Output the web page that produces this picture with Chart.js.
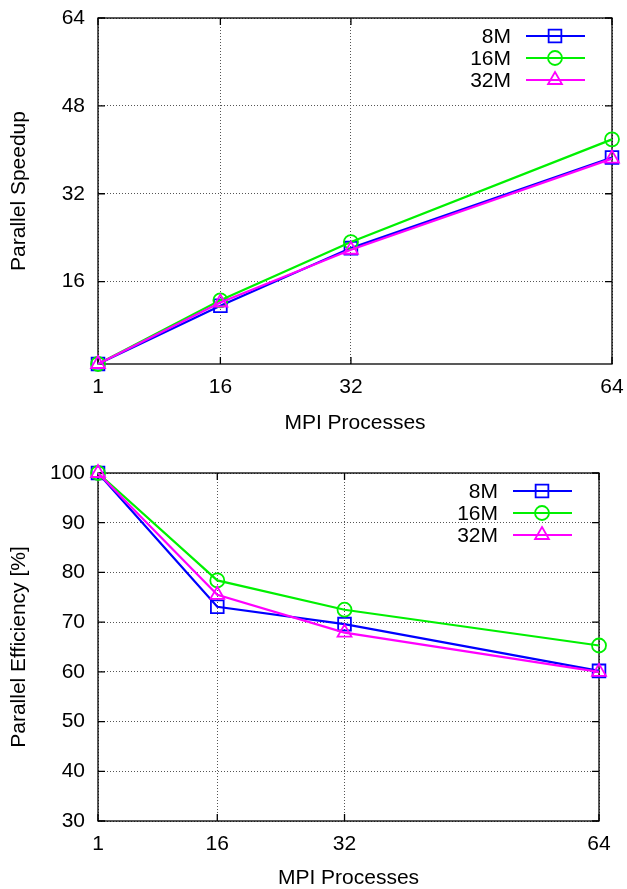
<!DOCTYPE html>
<html>
<head>
<meta charset="utf-8">
<script src="https://cdn.jsdelivr.net/npm/chart.js@4.4.1/dist/chart.umd.min.js"></script>
<style>
  body { margin: 0; background: #fff; }
  #wrap { position: relative; width: 627px; height: 889px; }
  #topBox { position: absolute; left: 0; top: 0; }
  #botBox { position: absolute; left: 0; top: 440px; }
</style>
</head>
<body>
<div id="wrap">
  <div id="topBox"><canvas id="speedupChart" width="627" height="440"></canvas></div>
  <div id="botBox"><canvas id="efficiencyChart" width="627" height="449"></canvas></div>
</div>
<script>
try {

    // data
    const processes = [1, 16, 32, 64];
    const seriesNames = ['8M', '16M', '32M'];
    const speedup8M = [1, 11.6, 22.1, 38.6];
    const speedup16M = [1, 12.6, 23.2, 41.9];
    const speedup32M = [1, 12.2, 21.8, 38.4];
    const eff8M = [100, 73.1, 69.6, 60.2];
    const eff16M = [100, 78.4, 72.5, 65.3];
    const eff32M = [100, 75.5, 67.9, 60.0];
    const speedupTicks = [16, 32, 48, 64];
    const efficiencyTicks = [30, 40, 50, 60, 70, 80, 90, 100];

    const FONT = "'Liberation Sans', Arial, Helvetica, sans-serif";
    const FSIZE = 21;
    const colors = ['#0000ff', '#00f000', '#ff00ff'];
    const markers = ['rect', 'circle', 'triangle'];
    const markerSize = [9, 7, 8];

    function makeDatasets(lists) {
      return lists.map((vals, i) => ({
        label: seriesNames[i],
        data: processes.map((p, j) => ({ x: p, y: vals[j] })),
        borderColor: colors[i],
        borderWidth: 2.2,
        pointStyle: markers[i],
        pointRadius: markerSize[i],
        pointBorderWidth: 1.8,
        pointBorderColor: colors[i],
        pointBackgroundColor: 'rgba(0,0,0,0)',
        tension: 0,
        clip: false,
        order: 3 - i
      }));
    }

    // small marker drawing for the legend samples
    function drawMarker(ctx, style, x, y, r) {
      ctx.beginPath();
      if (style === 'rect') {
        const s = r * Math.SQRT1_2;
        ctx.rect(x - s, y - s, 2 * s, 2 * s);
      } else if (style === 'circle') {
        ctx.arc(x, y, r, 0, Math.PI * 2);
      } else {
        const a = Math.PI / 6;
        ctx.moveTo(x, y - r);
        ctx.lineTo(x + Math.cos(a) * r, y + Math.sin(a) * r);
        ctx.lineTo(x - Math.cos(a) * r, y + Math.sin(a) * r);
        ctx.closePath();
      }
      ctx.stroke();
    }

    // border box with inward tick marks, like gnuplot, plus the legend
    const framePlugin = {
      id: 'frame',
      beforeDatasetsDraw(chart) {
        const { ctx, chartArea: a, scales } = chart;
        ctx.save();
        ctx.strokeStyle = '#000';
        ctx.lineWidth = 1.3;
        ctx.strokeRect(a.left, a.top, a.right - a.left, a.bottom - a.top);
        ctx.beginPath();
        scales.x.ticks.forEach(t => {
          const px = scales.x.getPixelForValue(t.value);
          ctx.moveTo(px, a.bottom); ctx.lineTo(px, a.bottom - 7);
          ctx.moveTo(px, a.top); ctx.lineTo(px, a.top + 7);
        });
        scales.y.ticks.forEach(t => {
          const py = scales.y.getPixelForValue(t.value);
          ctx.moveTo(a.left, py); ctx.lineTo(a.left + 7, py);
          ctx.moveTo(a.right, py); ctx.lineTo(a.right - 7, py);
        });
        ctx.stroke();
        ctx.restore();
      },
      afterDraw(chart) {
        const { ctx, chartArea: a } = chart;
        ctx.save();
        ctx.font = FSIZE + 'px ' + FONT;
        ctx.textAlign = 'right';
        ctx.textBaseline = 'middle';
        chart.data.datasets.forEach((ds, i) => {
          const y = a.top + 18 + 22 * i;
          ctx.fillStyle = '#000';
          ctx.fillText(ds.label, a.right - 101, y + 1);
          ctx.strokeStyle = ds.borderColor;
          ctx.lineWidth = ds.borderWidth;
          ctx.beginPath();
          ctx.moveTo(a.right - 86, y);
          ctx.lineTo(a.right - 27, y);
          ctx.stroke();
          ctx.lineWidth = ds.pointBorderWidth;
          drawMarker(ctx, ds.pointStyle, a.right - 57, y, ds.pointRadius);
        });
        ctx.restore();
      }
    };

    function noPad(s) {
      s.paddingTop = 0; s.paddingBottom = 0; s.paddingLeft = 0; s.paddingRight = 0;
    }

    function makeChart(canvasId, lists, yMin, yMax, yTicks, yTitle, box) {
      const ctx = document.getElementById(canvasId).getContext('2d');
      return new Chart(ctx, {
        type: 'line',
        data: { datasets: makeDatasets(lists) },
        plugins: [framePlugin],
        options: {
          responsive: false,
          animation: false,
          layout: { padding: { left: 0, top: box.top, right: box.right, bottom: 0 } },
          plugins: { legend: { display: false }, tooltip: { enabled: false } },
          scales: {
            x: {
              type: 'linear',
              min: 1,
              max: 64,
              afterBuildTicks: s => { s.ticks = processes.map(v => ({ value: v })); },
              afterFit: s => { s.height = box.xHeight; noPad(s); },
              ticks: { color: '#000', font: { family: FONT, size: FSIZE }, padding: 11 },
              grid: { color: '#555', lineWidth: 1, drawTicks: false },
              border: { display: false, dash: [1, 2] },
              title: {
                display: true, text: 'MPI Processes', color: '#000',
                font: { family: FONT, size: FSIZE, lineHeight: 1 },
                padding: { top: 0, bottom: box.xTitlePad }
              }
            },
            y: {
              min: yMin,
              max: yMax,
              afterBuildTicks: s => { s.ticks = yTicks.map(v => ({ value: v })); },
              afterFit: s => { s.width = 98; noPad(s); },
              ticks: { color: '#000', font: { family: FONT, size: FSIZE }, padding: 13 },
              grid: { color: '#555', lineWidth: 1, drawTicks: false },
              border: { display: false, dash: [1, 2] },
              title: {
                display: true, text: yTitle, color: '#000',
                font: { family: FONT, size: FSIZE, lineHeight: 1 },
                padding: { top: 9, bottom: 0 }
              }
            }
          }
        }
      });
    }

    makeChart('speedupChart', [speedup8M, speedup16M, speedup32M], 1, 64, speedupTicks,
      'Parallel Speedup', { top: 18, right: 15, xHeight: 76, xTitlePad: 6 });
    makeChart('efficiencyChart', [eff8M, eff16M, eff32M], 30, 100, efficiencyTicks,
      'Parallel Efficiency [%]', { top: 33, right: 28, xHeight: 68, xTitlePad: 0 });

} catch (e) {
    console.log(e);
}
</script>
</body>
</html>
